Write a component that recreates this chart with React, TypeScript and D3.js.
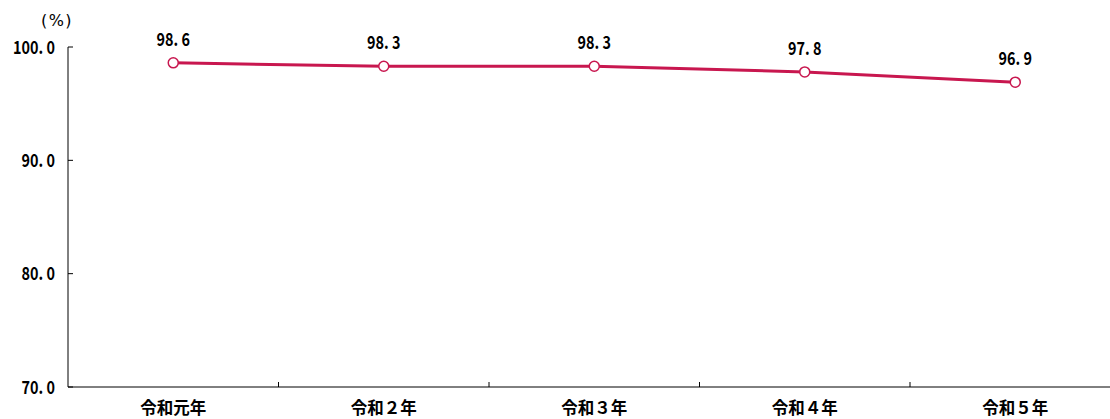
import React from "react";
import * as d3 from "d3";

const categories = ["令和元年", "令和２年", "令和３年", "令和４年", "令和５年"];
const values = [98.6, 98.3, 98.3, 97.8, 96.9];
const yTicks = [70, 80, 90, 100];

const W = 1110, H = 419;
const left = 68, bottom = 387, top = 47;
const color = "#c8174f";
const font = "'Noto Sans CJK JP', 'DejaVu Sans Condensed', sans-serif";

function Num({ x, y, text, anchor }: { x: number; y: number; text: string; anchor: string }) {
  return (
    <text transform={`translate(${x},${y}) scale(0.8,1)`} textAnchor={anchor} fontFamily={font} fontWeight="bold" fontSize={18}>
      {text}
    </text>
  );
}

export default function App() {
  const x = d3.scaleBand<string>().domain(categories).range([left, left + 5 * 210.5]);
  const y = d3.scaleLinear().domain([70, 100]).range([bottom, top]);
  const cx = (i: number) => x(categories[i])! + x.bandwidth() / 2;
  const line = d3.line<number>().x((_, i) => cx(i)).y(d => y(d));
  const fmt = (v: number) => v.toFixed(1).replace(".", ". ");
  return (
    <svg width={W} height={H} style={{ position: "absolute", left: 0, top: 0 }}>
      <rect width={W} height={H} fill="#fff" />
      <line x1={left} x2={left} y1={top} y2={bottom} stroke="#000" strokeWidth={1} />
      <line x1={left} x2={W} y1={bottom} y2={bottom} stroke="#000" strokeWidth={1} />
      {yTicks.map(t => (
        <g key={t}>
          <line x1={left} x2={left + 5} y1={y(t)} y2={y(t)} stroke="#000" />
          <Num x={55} y={y(t) + 6.5} text={fmt(t)} anchor="end" />
        </g>
      ))}
      <text x={57} y={26} textAnchor="middle" fontFamily="'DejaVu Sans', sans-serif" fontSize={16} fontWeight={500} letterSpacing={1.5}>(%)</text>
      {categories.slice(1).map(c => (
        <line key={c} x1={x(c)} x2={x(c)} y1={bottom} y2={bottom - 5} stroke="#000" />
      ))}
      {categories.map(c => (
        <text key={c} x={x(c)! + x.bandwidth() / 2} y={408} dy="0.35em" textAnchor="middle" fontFamily={font} fontWeight="bold" fontSize={16.5}>{c}</text>
      ))}
      <path d={line(values)!} fill="none" stroke={color} strokeWidth={3} />
      {values.map((v, i) => (
        <g key={i}>
          <circle cx={cx(i)} cy={y(v)} r={5} fill="#fff" stroke={color} strokeWidth={1.5} />
          <Num x={cx(i)} y={y(v) - 17} text={fmt(v)} anchor="middle" />
        </g>
      ))}
    </svg>
  );
}
